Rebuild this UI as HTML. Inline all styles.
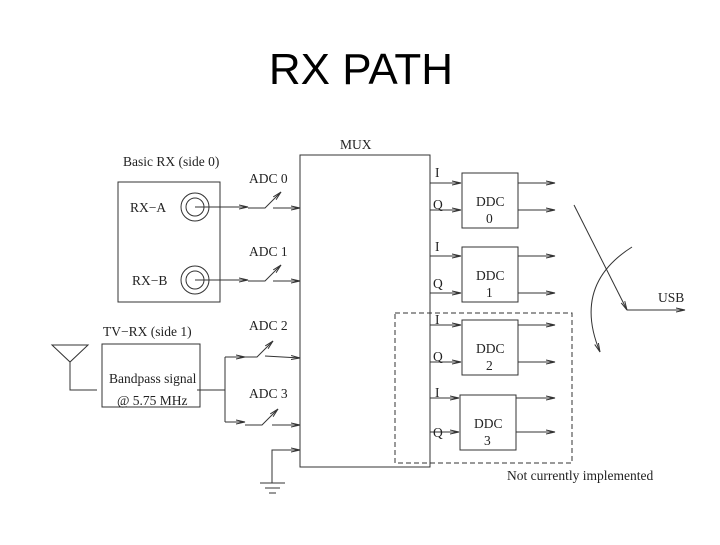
<!DOCTYPE html>
<html><head><style>
body{margin:0;background:#fff;width:720px;height:540px;overflow:hidden}
svg text{font-family:"Liberation Serif",serif;fill:#222}
</style></head><body>
<svg width="720" height="540" xmlns="http://www.w3.org/2000/svg">
<defs><marker id="a" markerWidth="10" markerHeight="6" refX="9" refY="3" orient="auto" markerUnits="userSpaceOnUse"><path d="M0,1 L9,3 L0,5" fill="none" stroke="#333" stroke-width="1"/></marker></defs>
<text x="361" y="84" text-anchor="middle" style="font-family:'Liberation Sans',sans-serif;font-size:44px;fill:#000">RX PATH</text>
<g stroke="#333" stroke-width="1" fill="none">
<rect x="300" y="155" width="130" height="312"/>
<rect x="118" y="182" width="102" height="120"/>
<circle cx="195" cy="207" r="14"/><circle cx="195" cy="207" r="9"/>
<circle cx="195" cy="280" r="14"/><circle cx="195" cy="280" r="9"/>
<rect x="102" y="344" width="98" height="63"/>
<path d="M52,345 L88,345 L70,362 Z M70,362 L70,390 L97,390"/>
<path d="M197,390 L225,390 M225,357 L225,422"/>
<path d="M195,207 L248,207" marker-end="url(#a)"/><path d="M248,208 L265,208 L281,192" marker-end="url(#a)"/><path d="M273,208 L300,208" marker-end="url(#a)"/>
<path d="M195,280 L248,280" marker-end="url(#a)"/><path d="M248,281 L265,281 L281,265" marker-end="url(#a)"/><path d="M273,281 L300,281" marker-end="url(#a)"/>
<path d="M225,357 L245,357" marker-end="url(#a)"/><path d="M245,357 L257,357 L273,341" marker-end="url(#a)"/><path d="M265,356 L300,358" marker-end="url(#a)"/>
<path d="M225,422 L245,422" marker-end="url(#a)"/><path d="M245,425 L262,425 L278,409" marker-end="url(#a)"/><path d="M272,425 L300,425" marker-end="url(#a)"/>
<path d="M272,483 L272,450 L300,450" marker-end="url(#a)"/>
<path d="M260,483 L285,483 M265,488 L280,488 M269,493 L276,493"/>
<rect x="462" y="173" width="56" height="55"/><rect x="462" y="247" width="56" height="55"/>
<rect x="462" y="320" width="56" height="55"/><rect x="460" y="395" width="56" height="55"/>
<path d="M430,183 L461,183" marker-end="url(#a)"/><path d="M430,210 L461,210" marker-end="url(#a)"/>
<path d="M430,256 L461,256" marker-end="url(#a)"/><path d="M430,293 L461,293" marker-end="url(#a)"/>
<path d="M430,325 L461,325" marker-end="url(#a)"/><path d="M430,362 L461,362" marker-end="url(#a)"/>
<path d="M430,398 L459,398" marker-end="url(#a)"/><path d="M430,432 L459,432" marker-end="url(#a)"/>
<path d="M518,183 L555,183" marker-end="url(#a)"/><path d="M518,210 L555,210" marker-end="url(#a)"/>
<path d="M518,256 L555,256" marker-end="url(#a)"/><path d="M518,293 L555,293" marker-end="url(#a)"/>
<path d="M518,325 L555,325" marker-end="url(#a)"/><path d="M518,362 L555,362" marker-end="url(#a)"/>
<path d="M516,398 L555,398" marker-end="url(#a)"/><path d="M516,432 L555,432" marker-end="url(#a)"/>
<rect x="395" y="313" width="177" height="150" stroke-dasharray="5,3"/>
<path d="M574,205 L627,310" marker-end="url(#a)"/>
<path d="M627,310 L685,310" marker-end="url(#a)"/>
<path d="M632,247 Q572,285 600,352" marker-end="url(#a)"/>
</g>
<g font-size="13.5">
<text x="340" y="149">MUX</text>
<text x="123" y="166">Basic RX (side 0)</text>
<text x="130" y="212">RX−A</text><text x="132" y="285">RX−B</text>
<text x="249" y="183">ADC 0</text><text x="249" y="256">ADC 1</text>
<text x="249" y="330">ADC 2</text><text x="249" y="398">ADC 3</text>
<text x="103" y="336">TV−RX (side 1)</text>
<text x="109" y="383">Bandpass signal</text><text x="117" y="405">@ 5.75 MHz</text>
<text x="435" y="177">I</text><text x="433" y="209">Q</text>
<text x="435" y="251">I</text><text x="433" y="288">Q</text>
<text x="435" y="324">I</text><text x="433" y="361">Q</text>
<text x="435" y="397">I</text><text x="433" y="437">Q</text>
<text x="476" y="206">DDC</text><text x="486" y="223">0</text>
<text x="476" y="280">DDC</text><text x="486" y="297">1</text>
<text x="476" y="353">DDC</text><text x="486" y="370">2</text>
<text x="474" y="428">DDC</text><text x="484" y="445">3</text>
<text x="658" y="302">USB</text>
<text x="507" y="480">Not currently implemented</text>
</g>
</svg>
</body></html>
